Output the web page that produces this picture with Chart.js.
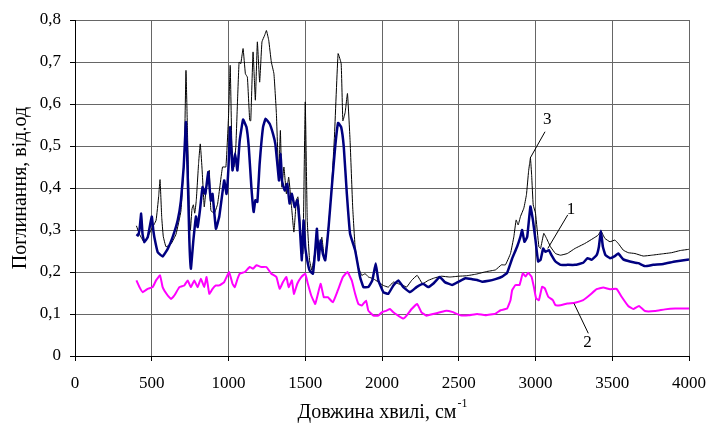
<!DOCTYPE html>
<html lang="uk">
<head>
    <meta charset="UTF-8">
    <title>Спектри поглинання</title>
    <script src="https://cdn.jsdelivr.net/npm/chart.js"></script>
    <style>
        html, body {
            margin: 0;
            padding: 0;
            background: #fff;
        }
        #wrap {
            width: 709px;
            height: 430px;
        }
    </style>
</head>
<body>
    <div id="wrap">
        <canvas id="spectra" width="709" height="430"></canvas>
    </div>

    <script>
        // крива 1 (синя)
        const wn1 = [400, 410, 420, 431, 440, 452, 474, 500, 510, 517, 539, 571, 604, 636, 669, 690, 708, 723, 734, 745, 755, 763, 771, 788, 799, 814, 831, 849, 868, 877, 885, 896, 918, 940, 972, 987, 1000, 1011, 1026, 1043, 1058, 1073, 1095, 1117, 1132, 1149, 1164, 1175, 1188, 1203, 1225, 1242, 1268, 1290, 1305, 1318, 1329, 1340, 1348, 1366, 1383, 1398, 1413, 1431, 1448, 1463, 1478, 1489, 1500, 1513, 1528, 1550, 1565, 1576, 1587, 1600, 1615, 1630, 1652, 1673, 1695, 1714, 1734, 1751, 1771, 1792, 1825, 1857, 1879, 1911, 1937, 1959, 1976, 2009, 2041, 2074, 2106, 2139, 2182, 2225, 2268, 2301, 2333, 2377, 2409, 2457, 2500, 2543, 2587, 2620, 2652, 2696, 2739, 2783, 2815, 2848, 2880, 2902, 2913, 2928, 2946, 2967, 2983, 3000, 3017, 3033, 3050, 3065, 3087, 3104, 3130, 3163, 3207, 3257, 3311, 3339, 3365, 3398, 3413, 3426, 3439, 3456, 3485, 3517, 3539, 3572, 3615, 3670, 3713, 3767, 3833, 3909, 4000];
        const abs1 = [0.29, 0.287, 0.30, 0.339, 0.29, 0.271, 0.283, 0.332, 0.30, 0.283, 0.247, 0.237, 0.255, 0.283, 0.323, 0.37, 0.45, 0.557, 0.434, 0.275, 0.208, 0.24, 0.275, 0.332, 0.307, 0.347, 0.402, 0.386, 0.438, 0.40, 0.37, 0.386, 0.303, 0.332, 0.418, 0.386, 0.45, 0.545, 0.442, 0.482, 0.442, 0.513, 0.563, 0.545, 0.498, 0.402, 0.343, 0.371, 0.367, 0.458, 0.545, 0.565, 0.553, 0.529, 0.505, 0.458, 0.418, 0.482, 0.418, 0.394, 0.41, 0.363, 0.386, 0.355, 0.371, 0.315, 0.228, 0.323, 0.259, 0.228, 0.204, 0.196, 0.252, 0.303, 0.228, 0.275, 0.243, 0.228, 0.307, 0.402, 0.498, 0.555, 0.545, 0.498, 0.386, 0.291, 0.252, 0.188, 0.164, 0.164, 0.18, 0.22, 0.18, 0.152, 0.148, 0.168, 0.18, 0.164, 0.152, 0.164, 0.172, 0.164, 0.172, 0.188, 0.176, 0.169, 0.177, 0.185, 0.183, 0.181, 0.177, 0.179, 0.183, 0.189, 0.198, 0.232, 0.26, 0.284, 0.30, 0.272, 0.284, 0.356, 0.324, 0.276, 0.225, 0.229, 0.256, 0.248, 0.252, 0.24, 0.225, 0.217, 0.217, 0.217, 0.222, 0.233, 0.229, 0.24, 0.26, 0.298, 0.26, 0.24, 0.233, 0.238, 0.244, 0.23, 0.225, 0.221, 0.214, 0.217, 0.219, 0.225, 0.23];

        // крива 2 (рожева)
        const wn2 = [400, 420, 441, 474, 506, 528, 554, 571, 604, 626, 647, 680, 712, 734, 755, 777, 799, 820, 842, 857, 875, 896, 918, 940, 972, 1004, 1026, 1041, 1059, 1073, 1106, 1138, 1160, 1182, 1214, 1247, 1279, 1312, 1333, 1355, 1377, 1392, 1413, 1426, 1448, 1474, 1500, 1517, 1539, 1565, 1600, 1621, 1647, 1680, 1712, 1745, 1775, 1803, 1825, 1846, 1868, 1896, 1911, 1944, 1976, 1998, 2030, 2052, 2074, 2106, 2139, 2160, 2193, 2229, 2257, 2290, 2333, 2377, 2420, 2457, 2511, 2565, 2620, 2674, 2739, 2772, 2815, 2837, 2848, 2870, 2896, 2917, 2935, 2952, 2974, 2989, 3004, 3022, 3043, 3061, 3083, 3113, 3130, 3163, 3207, 3257, 3311, 3354, 3398, 3441, 3485, 3528, 3561, 3604, 3637, 3674, 3713, 3778, 3843, 3909, 4000];
        const abs2 = [0.18, 0.164, 0.152, 0.16, 0.164, 0.18, 0.192, 0.164, 0.144, 0.136, 0.144, 0.164, 0.168, 0.18, 0.164, 0.18, 0.164, 0.184, 0.164, 0.188, 0.148, 0.16, 0.168, 0.168, 0.176, 0.20, 0.172, 0.164, 0.184, 0.196, 0.20, 0.212, 0.208, 0.216, 0.212, 0.212, 0.196, 0.188, 0.16, 0.176, 0.188, 0.164, 0.18, 0.148, 0.172, 0.188, 0.196, 0.172, 0.144, 0.124, 0.172, 0.14, 0.14, 0.128, 0.156, 0.188, 0.20, 0.18, 0.148, 0.124, 0.12, 0.132, 0.108, 0.096, 0.096, 0.104, 0.108, 0.112, 0.104, 0.096, 0.089, 0.096, 0.112, 0.124, 0.104, 0.096, 0.10, 0.104, 0.108, 0.105, 0.097, 0.097, 0.10, 0.097, 0.101, 0.109, 0.113, 0.133, 0.157, 0.169, 0.169, 0.197, 0.189, 0.198, 0.189, 0.165, 0.137, 0.133, 0.165, 0.161, 0.141, 0.133, 0.121, 0.121, 0.125, 0.127, 0.133, 0.145, 0.159, 0.163, 0.159, 0.16, 0.141, 0.119, 0.112, 0.119, 0.107, 0.107, 0.111, 0.113, 0.113];

        // крива 3 (чорна, тонка)
        const wn3 = [400, 420, 452, 475, 496, 528, 545, 554, 565, 575, 593, 626, 658, 690, 712, 723, 734, 745, 752, 762, 771, 780, 790, 805, 816, 827, 842, 852, 864, 875, 885, 907, 929, 961, 983, 1000, 1011, 1022, 1035, 1048, 1058, 1069, 1080, 1095, 1110, 1123, 1138, 1145, 1160, 1175, 1188, 1203, 1218, 1236, 1247, 1262, 1279, 1296, 1312, 1327, 1338, 1348, 1361, 1377, 1392, 1409, 1426, 1442, 1452, 1463, 1474, 1485, 1500, 1513, 1528, 1543, 1561, 1578, 1593, 1608, 1626, 1647, 1669, 1690, 1714, 1734, 1745, 1760, 1775, 1792, 1809, 1825, 1846, 1868, 1890, 1912, 1944, 1976, 2009, 2041, 2074, 2106, 2139, 2160, 2193, 2229, 2264, 2301, 2343, 2387, 2441, 2500, 2550, 2615, 2680, 2739, 2778, 2804, 2837, 2859, 2874, 2887, 2902, 2924, 2941, 2955, 2967, 2975, 2985, 3000, 3022, 3033, 3054, 3072, 3098, 3130, 3163, 3207, 3257, 3322, 3376, 3409, 3426, 3452, 3485, 3517, 3539, 3572, 3604, 3648, 3702, 3757, 3822, 3887, 3941, 4000];
        const abs3 = [0.31, 0.29, 0.27, 0.285, 0.30, 0.323, 0.38, 0.42, 0.33, 0.285, 0.26, 0.267, 0.29, 0.345, 0.474, 0.68, 0.513, 0.34, 0.30, 0.35, 0.36, 0.34, 0.37, 0.458, 0.505, 0.45, 0.355, 0.39, 0.418, 0.442, 0.347, 0.339, 0.362, 0.45, 0.45, 0.569, 0.692, 0.50, 0.45, 0.50, 0.60, 0.70, 0.696, 0.732, 0.672, 0.664, 0.561, 0.56, 0.724, 0.609, 0.748, 0.652, 0.748, 0.764, 0.775, 0.752, 0.70, 0.672, 0.577, 0.426, 0.537, 0.402, 0.45, 0.386, 0.426, 0.363, 0.295, 0.371, 0.379, 0.339, 0.243, 0.243, 0.605, 0.323, 0.228, 0.204, 0.243, 0.283, 0.259, 0.283, 0.228, 0.291, 0.386, 0.521, 0.72, 0.696, 0.56, 0.58, 0.625, 0.513, 0.355, 0.259, 0.212, 0.192, 0.196, 0.188, 0.184, 0.176, 0.168, 0.164, 0.176, 0.172, 0.168, 0.164, 0.18, 0.192, 0.172, 0.18, 0.186, 0.19, 0.188, 0.19, 0.191, 0.195, 0.201, 0.205, 0.217, 0.217, 0.244, 0.284, 0.324, 0.312, 0.332, 0.352, 0.384, 0.44, 0.471, 0.43, 0.36, 0.34, 0.26, 0.256, 0.292, 0.28, 0.26, 0.244, 0.24, 0.244, 0.256, 0.268, 0.28, 0.288, 0.298, 0.28, 0.272, 0.276, 0.268, 0.252, 0.246, 0.244, 0.238, 0.24, 0.243, 0.246, 0.251, 0.254];

        // підписи кривих: номер, положення тексту і кінці виноски (у одиницях осей)
        const curveLabels = ['3', '1', '2'];
        const labelPos = [[3077, 0.562], [3232, 0.348], [3338, 0.033]];
        const leaderFrom = [[3062, 0.534], [3210, 0.336], [3344, 0.054]];
        const leaderTo = [[2965, 0.471], [3080, 0.256], [3251, 0.125]];

        const xTitle = 'Довжина хвилі, см';
        const xTitleSup = '-1';
        const yTitle = 'Поглинання, від.од';

        const serif = "'Liberation Serif', 'Times New Roman', serif";

        function toPoints(xs, ys) {
            return xs.map((x, i) => ({ x: x, y: ys[i] }));
        }

        // підписи осей і номери кривих
        const extrasPlugin = {
            id: 'extras',
            afterDraw(chart) {
                const ctx = chart.ctx;
                const xs = chart.scales.x;
                const ys = chart.scales.y;
                const area = chart.chartArea;
                ctx.save();

                ctx.strokeStyle = '#000';
                ctx.lineWidth = 1;
                ctx.fillStyle = '#000';
                ctx.font = '17px ' + serif;
                ctx.textAlign = 'center';
                ctx.textBaseline = 'middle';
                for (let i = 0; i < curveLabels.length; i++) {
                    ctx.beginPath();
                    ctx.moveTo(xs.getPixelForValue(leaderFrom[i][0]), ys.getPixelForValue(leaderFrom[i][1]));
                    ctx.lineTo(xs.getPixelForValue(leaderTo[i][0]), ys.getPixelForValue(leaderTo[i][1]));
                    ctx.stroke();
                    ctx.fillText(curveLabels[i], xs.getPixelForValue(labelPos[i][0]), ys.getPixelForValue(labelPos[i][1]));
                }

                // назва осі X з верхнім індексом
                ctx.font = '20px ' + serif;
                const w1 = ctx.measureText(xTitle).width;
                ctx.font = '12px ' + serif;
                const w2 = ctx.measureText(xTitleSup).width;
                const cx = (area.left + area.right) / 2;
                const startX = cx - (w1 + w2) / 2;
                ctx.textAlign = 'left';
                ctx.font = '20px ' + serif;
                ctx.fillText(xTitle, startX, 413);
                ctx.font = '12px ' + serif;
                ctx.fillText(xTitleSup, startX + w1 + 1, 404);

                // назва осі Y
                ctx.font = '20px ' + serif;
                ctx.textAlign = 'center';
                ctx.translate(21, (area.top + area.bottom) / 2);
                ctx.rotate(-Math.PI / 2);
                ctx.fillText(yTitle, 0, 0);
                ctx.restore();
            }
        };

        const ctx = document.getElementById('spectra').getContext('2d');
        new Chart(ctx, {
            type: 'line',
            data: {
                datasets: [
                    {
                        label: '1',
                        data: toPoints(wn1, abs1),
                        borderColor: '#000080',
                        borderWidth: 2.5,
                        order: 0
                    },
                    {
                        label: '3',
                        data: toPoints(wn3, abs3),
                        borderColor: '#000000',
                        borderWidth: 1,
                        order: 1
                    },
                    {
                        label: '2',
                        data: toPoints(wn2, abs2),
                        borderColor: '#ff00ff',
                        borderWidth: 2,
                        order: 2
                    }
                ]
            },
            options: {
                responsive: false,
                animation: false,
                events: [],
                elements: {
                    point: { radius: 0 },
                    line: { tension: 0.1, borderJoinStyle: 'round' }
                },
                layout: {
                    padding: { top: 20, right: 20, left: 0, bottom: 0 }
                },
                plugins: {
                    legend: { display: false },
                    tooltip: { enabled: false }
                },
                scales: {
                    x: {
                        type: 'linear',
                        min: 0,
                        max: 4000,
                        afterFit(scale) {
                            scale.height = 74;
                            scale.paddingLeft = 0;
                            scale.paddingRight = 0;
                        },
                        ticks: {
                            stepSize: 500,
                            color: '#000',
                            padding: 12,
                            maxRotation: 0,
                            font: { family: serif, size: 17 },
                            callback: (v) => String(v)
                        },
                        grid: {
                            color: '#666',
                            tickColor: '#000',
                            tickLength: 5,
                            lineWidth: 1
                        },
                        border: { color: '#000', width: 1 }
                    },
                    y: {
                        min: 0,
                        max: 0.8,
                        afterFit(scale) {
                            scale.width = 75;
                            scale.paddingTop = 0;
                            scale.paddingBottom = 0;
                        },
                        ticks: {
                            stepSize: 0.1,
                            color: '#000',
                            padding: 9,
                            font: { family: serif, size: 17 },
                            callback: (v) => v === 0 ? '0' : v.toFixed(1).replace('.', ',')
                        },
                        grid: {
                            color: '#666',
                            tickColor: '#000',
                            tickLength: 5,
                            lineWidth: 1
                        },
                        border: { color: '#000', width: 1 }
                    }
                }
            },
            plugins: [extrasPlugin]
        });
    </script>
</body>
</html>
